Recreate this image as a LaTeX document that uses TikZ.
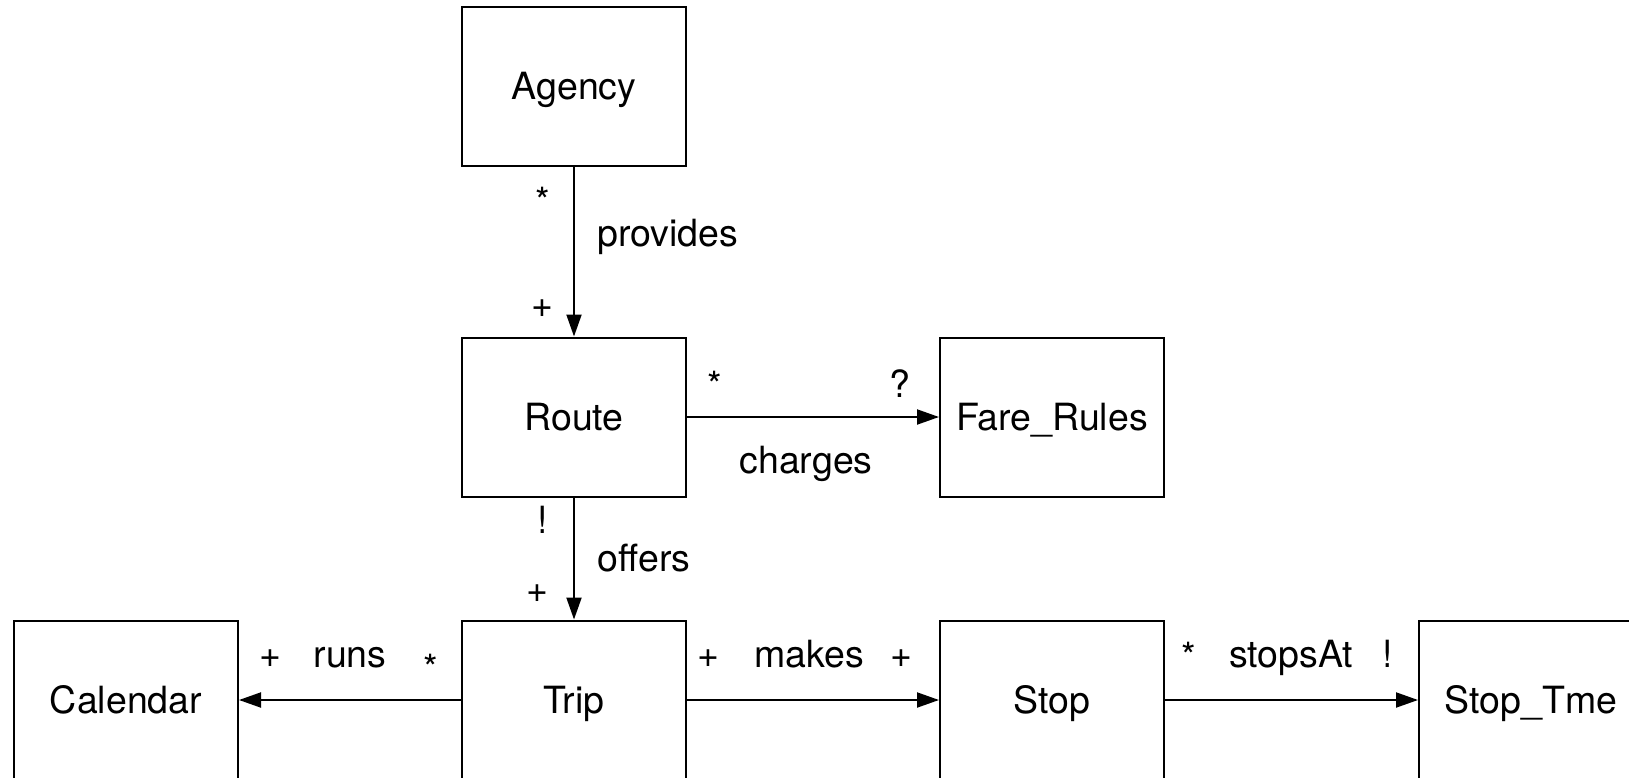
\documentclass[tikz,border=0pt]{standalone}
\usepackage{fontspec}
\setmainfont{TeX Gyre Heros}
\usetikzlibrary{arrows.meta}
\begin{document}
\begin{tikzpicture}[x=0.5pt,y=-0.5pt,
  font=\fontsize{18.75}{22}\selectfont,
  entity/.style={draw, line width=1pt, minimum width=112pt, minimum height=79.5pt,
    inner sep=0pt, text height=13.45pt, text depth=0pt},
  rel/.style={line width=1pt, -{Triangle[length=11pt,width=7.5pt]}},
  lbl/.style={inner sep=0pt, anchor=base},
  lblw/.style={inner sep=0pt, anchor=base west}]
\useasboundingbox (0,0) rectangle (1629,777);
\clip (0,0) rectangle (1629,777);
% entities
\node[entity] (agency) at (574,86.5) {Agency};
\node[entity] (route) at (574,417) {Route};
\node[entity] (fare) at (1052,417) {Fare\_Rules};
\node[entity] (calendar) at (126,700) {Calendar};
\node[entity] (trip) at (574,700) {Trip};
\node[entity] (stop) at (1052,700) {Stop};
\node[entity] (stoptime) at (1531,700) {Stop\_Tme};
% relations
\draw[rel] (agency) -- (route);
\draw[rel] (route) -- (fare);
\draw[rel] (route) -- (trip);
\draw[rel] (trip) -- (calendar);
\draw[rel] (trip) -- (stop);
\draw[rel] (stop) -- (stoptime);
% labels: provides
\node[lbl] (m1) at (543,214) {*};
\node[lblw] (l1) at (597,246) {provides};
\node[lbl] (m2) at (542,317) {+};
% charges
\node[lbl] (m3) at (715,398) {*};
\node[lbl] (m4) at (900,397) {?};
\node[lbl] (l2) at (806,473) {charges};
% offers
\node[lbl] (m5) at (543,533) {!};
\node[lblw] (l3) at (597,571) {offers};
\node[lbl] (m6) at (537,602) {+};
% runs
\node[lbl] (m7) at (270,667) {+};
\node[lbl] (l4) at (350,667) {runs};
\node[lbl] (m8) at (431,681) {*};
% makes
\node[lbl] (m9) at (708,667) {+};
\node[lbl] (l5) at (809,667) {makes};
\node[lbl] (m10) at (901,667) {+};
% stopsAt
\node[lbl] (m11) at (1189,669) {*};
\node[lbl] (l6) at (1291,667) {stopsAt};
\node[lbl] (m12) at (1388,667) {!};
\end{tikzpicture}
\end{document}
